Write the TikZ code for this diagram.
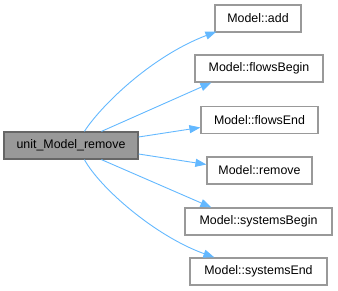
\documentclass[tikz,border=0pt]{standalone}
\usepackage{fontspec}
\setmainfont{Liberation Sans}
\usetikzlibrary{arrows.meta,calc}
\definecolor{edgeblue}{HTML}{63B8FF}
\definecolor{grey60}{HTML}{999999}
\definecolor{grey40}{HTML}{666666}
\begin{document}
\begin{tikzpicture}[x=1pt,y=-1pt,
  fn/.style={draw=grey60, fill=white, line width=1.2pt, minimum height=27pt,
    inner sep=0pt, font=\fontsize{12.4}{14}\selectfont, text=black},
  rootfn/.style={fn, draw=grey40, fill=grey60},
  call/.style={draw=edgeblue, line width=0.9pt,
    -{Triangle[length=11pt,width=8pt]}}]
\useasboundingbox (0,0) rectangle (338,291);

% caller
\node[rootfn, minimum width=134pt] (main) at (71,145.5) {unit\_Model\_remove};

% callees
\node[fn, minimum width=86pt]  (add)    at (258,18.5)  {Model::add};
\node[fn, minimum width=128pt] (fbegin) at (259,68.5)  {Model::flowsBegin};
\node[fn, minimum width=117pt] (fend)   at (259.5,120) {Model::flowsEnd};
\node[fn, minimum width=105pt] (remove) at (259.5,170.5) {Model::remove};
\node[fn, minimum width=147pt] (sbegin) at (258.5,221.5) {Model::systemsBegin};
\node[fn, minimum width=137pt] (send)   at (258.5,271.5) {Model::systemsEnd};

% calls
\draw[call] ($(main.north west)+(81,0)$) .. controls (100,107) and (150,57) .. ($(add.south west)+(2,-1)$);
\draw[call] ($(main.north west)+(98,0)$) -- ($(fbegin.south west)+(17,0)$);
\draw[call] ($(main.east)+(0,-8.5)$) -- ($(fend.west)+(0,7.5)$);
\draw[call] ($(main.east)+(0,8.5)$) -- ($(remove.west)+(0,-6)$);
\draw[call] ($(main.south west)+(98,0)$) -- ($(sbegin.north west)+(27,0)$);
\draw[call] ($(main.south west)+(81,0)$) .. controls (100,188) and (155,236) .. ($(send.north west)+(25,0)$);
\end{tikzpicture}
\end{document}
